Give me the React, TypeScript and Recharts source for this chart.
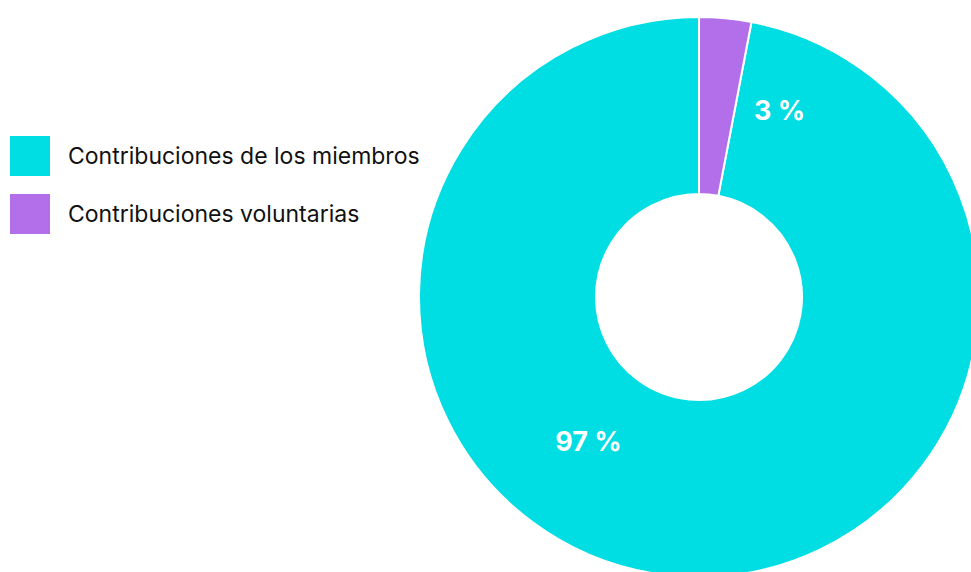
import React from 'react';
import { PieChart, Pie, Cell } from 'recharts';

const categories = ['Contribuciones de los miembros', 'Contribuciones voluntarias'];
const values = [97, 3];
const colors = ['#00DDE3', '#B36FEA'];

const data = categories.map((name, i) => ({ name, value: values[i] }));

// labels sit a bit clockwise of the slice middle, like the original
const LABEL_TURN = [32, 18];
const LABEL_RADIUS = [182, 203];
const RAD = Math.PI / 180;

const FONT = 'Inter, Liberation Sans, Arial, sans-serif';

const renderLabel = (props: any) => {
  const { cx, cy, midAngle, index, value } = props;
  const angle = midAngle - LABEL_TURN[index];
  const r = LABEL_RADIUS[index];
  const x = cx + r * Math.cos(-angle * RAD);
  const y = cy + r * Math.sin(-angle * RAD);
  return (
    <text
      x={x}
      y={y}
      fill="#ffffff"
      textAnchor="middle"
      dominantBaseline="central"
      fontFamily={FONT}
      fontWeight={700}
      fontSize={27}
    >
      {`${value} %`}
    </text>
  );
};

// the small slice starts at 12 o'clock and runs clockwise
const startAngle = 90 - values[1] * 3.6;

export default function App() {
  return (
    <div style={{ position: 'absolute', left: 0, top: 0, width: 971, height: 572, background: '#fff', overflow: 'hidden' }}>
      <PieChart width={971} height={572} margin={{ top: 0, right: 0, bottom: 0, left: 0 }}>
        <Pie
          data={data}
          dataKey="value"
          nameKey="name"
          cx={699}
          cy={297}
          innerRadius={103}
          outerRadius={280}
          startAngle={startAngle}
          endAngle={startAngle - 360}
          stroke="#ffffff"
          strokeWidth={2}
          labelLine={false}
          label={renderLabel}
          isAnimationActive={false}
        >
          {data.map((d, i) => (
            <Cell key={d.name} fill={colors[i]} />
          ))}
        </Pie>
      </PieChart>
      <div style={{ position: 'absolute', left: 10, top: 136, fontFamily: FONT }}>
        {data.map((d, i) => (
          <div key={d.name} style={{ display: 'flex', alignItems: 'center', height: 40, marginBottom: 18 }}>
            <div style={{ width: 40, height: 40, background: colors[i], marginRight: 18 }} />
            <span style={{ fontSize: 23, color: '#111' }}>{d.name}</span>
          </div>
        ))}
      </div>
    </div>
  );
}
